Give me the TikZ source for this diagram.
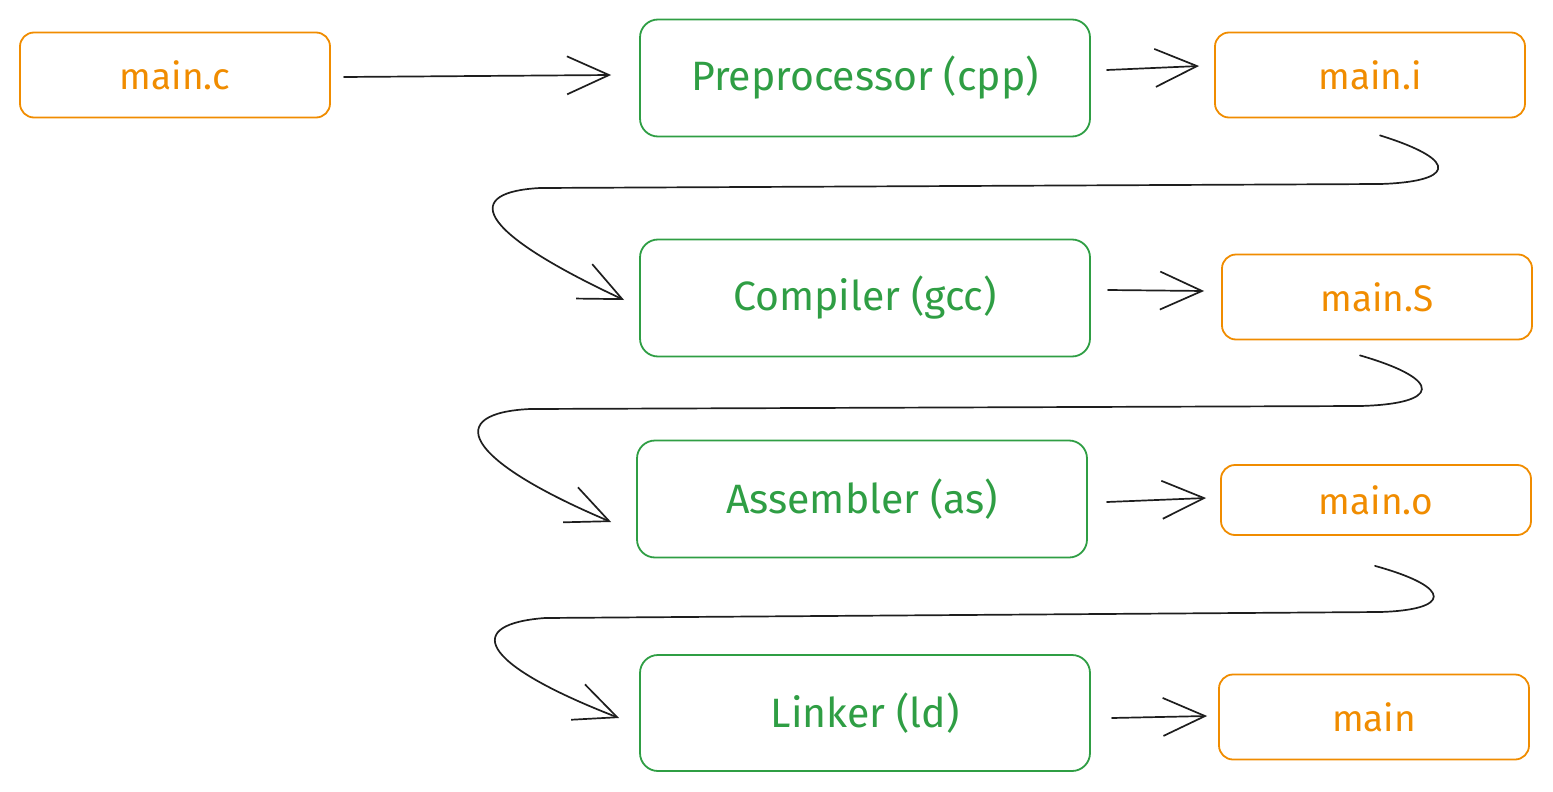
\documentclass[tikz,border=0pt]{standalone}
\usepackage{fontspec}
\setmainfont{Fira Sans}
\usetikzlibrary{arrows.meta,calc}
\definecolor{orng}{HTML}{F08C00}
\definecolor{grn}{HTML}{2F9E44}
\definecolor{ink}{HTML}{1E1E1E}
\tikzset{
  filebox/.style={draw=orng, text=orng, line width=1.8pt, rounded corners=14pt,
    minimum width=310pt, minimum height=85pt, font=\fontsize{37}{40}\selectfont},
  toolbox/.style={draw=grn, text=grn, line width=1.8pt, rounded corners=18pt,
    minimum width=450pt, minimum height=117pt, font=\fontsize{41}{44}\selectfont},
  flow/.style={draw=ink, line width=1.7pt, line cap=round,
    -{Straight Barb[length=42pt,width=38pt,line width=1.7pt]}}
}
\begin{document}
\begin{tikzpicture}[x=1pt,y=-1pt]
\useasboundingbox (0,0) rectangle (1553,792);
\node[filebox] (mc) at (175,75) {main.c};
\node[toolbox] (pp) at (865,78) {Preprocessor (cpp)};
\node[filebox] (mi) at (1370,75) {main.i};
\node[toolbox] (cc) at (865,298) {Compiler (gcc)};
\node[filebox] (ms) at (1377,297) {main.S};
\node[toolbox, minimum height=117pt] (as) at (862,499) {Assembler (as)};
\node[filebox, minimum height=70pt] (mo) at (1376,500) {main.o};
\node[toolbox, minimum height=116pt] (ld) at (865,713) {Linker (ld)};
\node[filebox] (mn) at (1374,717) {main};

\draw[flow] ($(mc.east)+(13,2)$) -- ($(pp.west)+(-28,-3)$);
\draw[flow] ($(pp.east)+(16,-8)$) -- ($(mi.west)+(-15,-9)$);
\draw[flow] ($(cc.east)+(17,-8)$) -- ($(ms.west)+(-17,-6)$);
\draw[flow] ($(as.east)+(19,3)$) -- ($(mo.west)+(-14,-2)$);
\draw[flow] ($(ld.east)+(21,5)$) -- ($(mn.west)+(-11,-1)$);

\draw[flow] ($(mi.south)+(10,17)$) .. controls (1465,162) and (1450,182) .. (1380,184)
  -- (540,188) .. controls (465,192) and (470,228) .. ($(cc.west)+(-15,2)$);
\draw[flow] ($(ms.south)+(-17,15)$) .. controls (1445,380) and (1440,404) .. (1360,406)
  -- (530,409) .. controls (445,413) and (460,458) .. ($(as.west)+(-25,23)$);
\draw[flow] ($(mo.south)+(-1,30)$) .. controls (1455,588) and (1450,610) .. (1380,612)
  -- (545,618) .. controls (465,624) and (475,662) .. ($(ld.west)+(-20,5)$);
\end{tikzpicture}
\end{document}
